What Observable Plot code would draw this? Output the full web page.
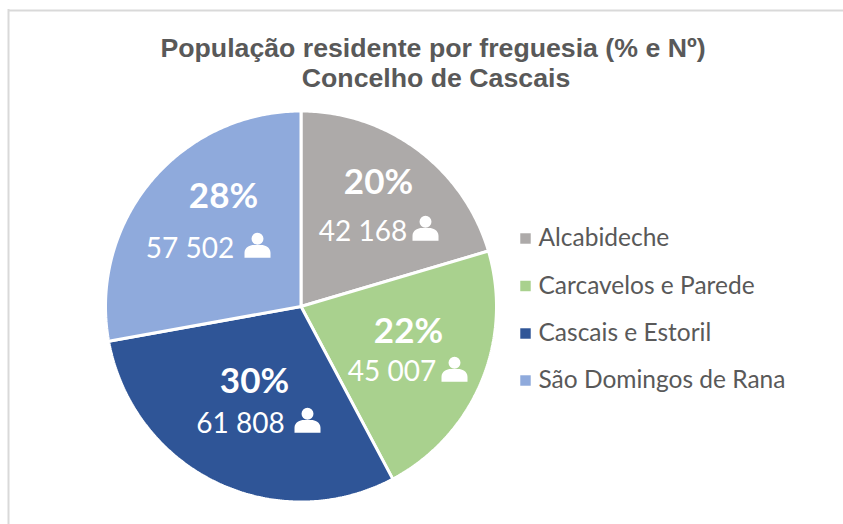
<!DOCTYPE html>
<html lang="pt">
<head>
<meta charset="utf-8">
<script src="https://cdn.jsdelivr.net/npm/d3@7"></script>
<script src="https://cdn.jsdelivr.net/npm/@observablehq/plot@0.6"></script>
<style>html,body{margin:0;padding:0;background:#fff}svg{display:block}</style>
</head>
<body>
<div id="chart"></div>
<script>
const names = ["Alcabideche", "Carcavelos e Parede", "Cascais e Estoril", "São Domingos de Rana"];
const population = [42168, 45007, 61808, 57502];
const colors = ["#ADAAA9", "#A9D18E", "#2F5597", "#8FAADC"];
const titleLines = ["População residente por freguesia (% e Nº)", "Concelho de Cascais"];

const W = 843, H = 524;
// layout (pixels)
const pie = {cx: 300.5, cy: 306, r: 195.5};
const pctAt = [[378, 182.5], [408, 331], [254, 381], [223, 196]];
const countAt = [[362.5, 232], [391.5, 372], [240, 424], [189.5, 249]];
const iconAt = [[425, 228], [454, 369], [307, 420], [257, 245]];
const legendY = [238, 285.5, 333, 380];
const titleAt = [[432.5, 47.5], [435.5, 78]];

const total = d3.sum(population);
const rows = names.map((name, i) => ({
  name,
  value: population[i],
  pct: Math.round(population[i] / total * 100) + "%",
  count: String(population[i]).replace(/(\d{3})$/, " $1"),
  pctX: pctAt[i][0], pctY: pctAt[i][1],
  countX: countAt[i][0], countY: countAt[i][1],
  iconX: iconAt[i][0], iconY: iconAt[i][1],
  legendY: legendY[i]
}));

const arcs = d3.pie().sort(null).value(d => d.value)(rows);
const outline = arcs.flatMap(a => {
  const n = Math.ceil((a.endAngle - a.startAngle) * 90);
  const pts = [{name: a.data.name, x: pie.cx, y: pie.cy}];
  for (let k = 0; k <= n; ++k) {
    const t = a.startAngle + (a.endAngle - a.startAngle) * k / n;
    pts.push({name: a.data.name, x: pie.cx + pie.r * Math.sin(t), y: pie.cy - pie.r * Math.cos(t)});
  }
  pts.push({name: a.data.name, x: pie.cx, y: pie.cy});
  return pts;
});

const person = {
  draw(c, size) {
    const s = Math.sqrt(size / Math.PI);
    c.moveTo(0.46 * s, -0.52 * s);
    c.arc(0, -0.52 * s, 0.46 * s, 0, 2 * Math.PI);
    c.closePath();
    c.moveTo(-s, 0.95 * s);
    c.lineTo(-s, 0.55 * s);
    c.bezierCurveTo(-s, 0.15 * s, -0.55 * s, -0.03 * s, -0.3 * s, -0.03 * s);
    c.lineTo(0.3 * s, -0.03 * s);
    c.bezierCurveTo(0.55 * s, -0.03 * s, s, 0.15 * s, s, 0.55 * s);
    c.lineTo(s, 0.95 * s);
    c.closePath();
  }
};

const labelFont = "Lato, Carlito, sans-serif";
const chart = Plot.plot({
  width: W, height: H,
  margin: 0,
  x: {domain: [0, W], range: [0, W], axis: null},
  y: {domain: [0, H], range: [0, H], axis: null},
  color: {domain: names, range: colors},
  marks: [
    Plot.ruleY([10], {x1: 8, x2: W, stroke: "#D9D9D9", strokeWidth: 2}),
    Plot.ruleX([8], {y1: 9, y2: H, stroke: "#D9D9D9", strokeWidth: 2}),
    Plot.line(outline, {x: "x", y: "y", z: "name", fill: "name", stroke: "#fff", strokeWidth: 3, strokeLinejoin: "miter"}),
    Plot.text(titleLines, {
      x: (d, i) => titleAt[i][0], y: (d, i) => titleAt[i][1], text: d => d,
      fontFamily: "Liberation Sans, Arial, sans-serif", fontWeight: 700, fontSize: 26.7, fill: "#595959"
    }),
    Plot.text(rows, {x: "pctX", y: "pctY", text: "pct", fontFamily: labelFont, fontWeight: 700, fontSize: 35, fill: "#fff"}),
    Plot.text(rows, {x: "countX", y: "countY", text: "count", fontFamily: labelFont, fontSize: 28, fill: "#fff"}),
    Plot.dot(rows, {x: "iconX", y: "iconY", r: 13, symbol: person, fill: "#fff", stroke: "none"}),
    Plot.dot(rows, {x: () => 525, y: "legendY", r: 5.9, symbol: "square", fill: "name", stroke: "none"}),
    Plot.text(rows, {x: () => 538, y: "legendY", text: "name", textAnchor: "start", fontFamily: labelFont, fontSize: 24.5, fill: "#595959"})
  ]
});
document.getElementById("chart").append(chart);
</script>
</body>
</html>
